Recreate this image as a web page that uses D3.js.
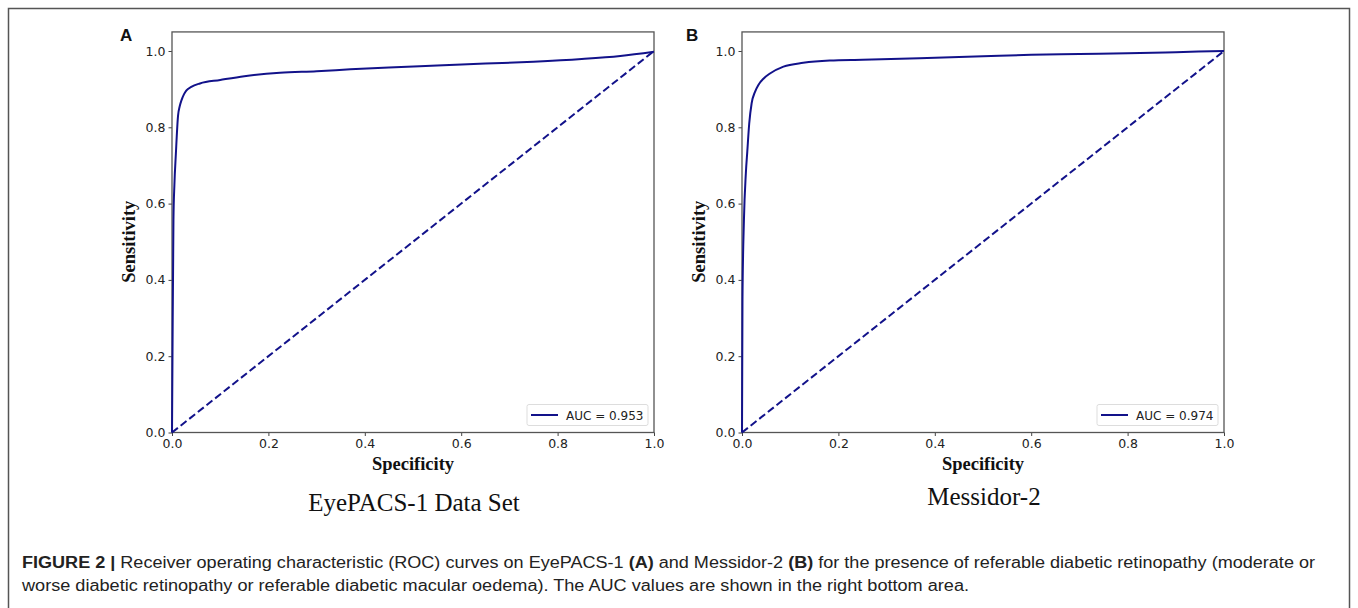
<!DOCTYPE html>
<meta charset="utf-8">
<style>
body { margin: 0; background: #fff; }
.tick text { font-family: "DejaVu Sans", sans-serif; font-size: 12.5px; fill: #222; }
.tick line { stroke: #444; }
.domain { display: none; }
.axlab { font-family: "Liberation Serif", serif; font-weight: bold; font-size: 18.5px; fill: #111; }
.ptitle { font-family: "Liberation Serif", serif; font-size: 25px; fill: #111; }
.plet { font-family: "Liberation Sans", Arial, sans-serif; font-weight: bold; font-size: 17px; fill: #111; }
.cap { font-family: "Liberation Sans", Arial, sans-serif; font-size: 16px; fill: #222; }
.leg { font-family: "DejaVu Sans", sans-serif; font-size: 12px; fill: #222; }
</style>
<svg width="1358" height="608"></svg>
<script src="https://d3js.org/d3.v7.min.js"></script>
<script>

// ROC points
var fprA = [0, 0.001, 0.003, 0.005, 0.008, 0.0125, 0.016, 0.02, 0.025, 0.03, 0.04, 0.058, 0.1, 0.15, 0.224, 0.3, 0.37, 0.45, 0.55, 0.65, 0.75, 0.85, 0.93, 1.0];
var tprA = [0, 0.2, 0.557, 0.65, 0.73, 0.83, 0.855, 0.872, 0.887, 0.897, 0.906, 0.915, 0.924, 0.934, 0.943, 0.947, 0.952, 0.957, 0.962, 0.967, 0.972, 0.979, 0.987, 0.998];
var fprB = [0, 0.001, 0.004, 0.008, 0.011, 0.015, 0.02, 0.027, 0.034, 0.045, 0.058, 0.086, 0.127, 0.182, 0.25, 0.368, 0.5, 0.6, 0.7, 0.8, 0.9, 1.0];
var tprB = [0, 0.35, 0.557, 0.68, 0.737, 0.81, 0.863, 0.893, 0.911, 0.928, 0.941, 0.959, 0.969, 0.975, 0.977, 0.981, 0.986, 0.99, 0.992, 0.994, 0.997, 1.0];
var chance = [0, 1];
var ticks = [0, 0.2, 0.4, 0.6, 0.8, 1.0];

var panels = [
  {letter: "A", left: 172, fpr: fprA, tpr: tprA, auc: "AUC = 0.953", title: "EyePACS-1 Data Set", titleY: 511},
  {letter: "B", left: 742, fpr: fprB, tpr: tprB, auc: "AUC = 0.974", title: "Messidor-2", titleY: 505}
];

var svg = d3.select("svg");
var navy = "#12128a";

// figure frame (open at the bottom)
svg.append("rect")
    .attr("x", 8.5).attr("y", 8.5)
    .attr("width", 1341).attr("height", 640)
    .attr("fill", "none").attr("stroke", "#555").attr("stroke-width", 1.5);

var pw = 482, yTop = 51, yBottom = 432.5;

panels.forEach(function(p) {
  var x = d3.scaleLinear().domain([0, 1]).range([p.left, p.left + pw]);
  var y = d3.scaleLinear().domain([0, 1]).range([yBottom, yTop]);

  var g = svg.append("g");

  g.append("g")
      .attr("transform", "translate(0," + yBottom + ")")
      .call(d3.axisBottom(x).tickValues(ticks).tickFormat(d3.format(".1f")).tickSize(3.5).tickPadding(3));

  g.append("g")
      .attr("transform", "translate(" + p.left + ",0)")
      .call(d3.axisLeft(y).tickValues(ticks).tickFormat(d3.format(".1f")).tickSize(3.5).tickPadding(3));

  // frame of the axes
  g.append("rect")
      .attr("x", x(0)).attr("y", y(1.05))
      .attr("width", x(1) - x(0)).attr("height", y(0) - y(1.05))
      .attr("fill", "none").attr("stroke", "#555").attr("stroke-width", 1.3);

  g.append("path")
      .datum(chance)
      .attr("fill", "none").attr("stroke", navy).attr("stroke-width", 2)
      .attr("stroke-dasharray", "7.5,3.5")
      .attr("d", d3.line().x(function(d) { return x(d); }).y(function(d) { return y(d); }));

  g.append("path")
      .datum(d3.zip(p.fpr, p.tpr))
      .attr("fill", "none").attr("stroke", navy).attr("stroke-width", 2)
      .attr("stroke-linejoin", "round")
      .attr("d", d3.line().curve(d3.curveMonotoneX).x(function(d) { return x(d[0]); }).y(function(d) { return y(d[1]); }));

  // legend
  var lx = x(1) - 127, ly = 404.5;
  g.append("rect")
      .attr("x", lx).attr("y", ly).attr("width", 121).attr("height", 21).attr("rx", 2)
      .attr("fill", "#fff").attr("stroke", "#ddd");
  g.append("line")
      .attr("x1", lx + 4).attr("x2", lx + 31).attr("y1", ly + 10.5).attr("y2", ly + 10.5)
      .attr("stroke", navy).attr("stroke-width", 2);
  g.append("text").attr("class", "leg")
      .attr("x", lx + 39).attr("y", ly + 15)
      .text(p.auc);

  g.append("text").attr("class", "axlab")
      .attr("transform", "translate(" + (p.left - 37) + "," + ((yTop + yBottom) / 2) + ") rotate(-90)")
      .attr("text-anchor", "middle")
      .text("Sensitivity");

  g.append("text").attr("class", "axlab")
      .attr("x", p.left + pw / 2).attr("y", 470)
      .attr("text-anchor", "middle")
      .text("Specificity");

  g.append("text").attr("class", "ptitle")
      .attr("x", p.left + pw / 2 + 1).attr("y", p.titleY)
      .attr("text-anchor", "middle")
      .text(p.title);

  g.append("text").attr("class", "plet")
      .attr("x", p.left - 52 - (p.letter === "B" ? 4 : 0)).attr("y", 41)
      .text(p.letter);
});

// caption
var c1 = svg.append("text").attr("class", "cap").attr("x", 22).attr("y", 568)
    .attr("textLength", 1293).attr("lengthAdjust", "spacingAndGlyphs");
c1.append("tspan").attr("font-weight", "bold").text("FIGURE 2 | ");
c1.append("tspan").text("Receiver operating characteristic (ROC) curves on EyePACS-1 ");
c1.append("tspan").attr("font-weight", "bold").text("(A)");
c1.append("tspan").text(" and Messidor-2 ");
c1.append("tspan").attr("font-weight", "bold").text("(B)");
c1.append("tspan").text(" for the presence of referable diabetic retinopathy (moderate or");

svg.append("text").attr("class", "cap").attr("x", 22).attr("y", 591)
    .attr("textLength", 947).attr("lengthAdjust", "spacingAndGlyphs")
    .text("worse diabetic retinopathy or referable diabetic macular oedema). The AUC values are shown in the right bottom area.");

</script>
